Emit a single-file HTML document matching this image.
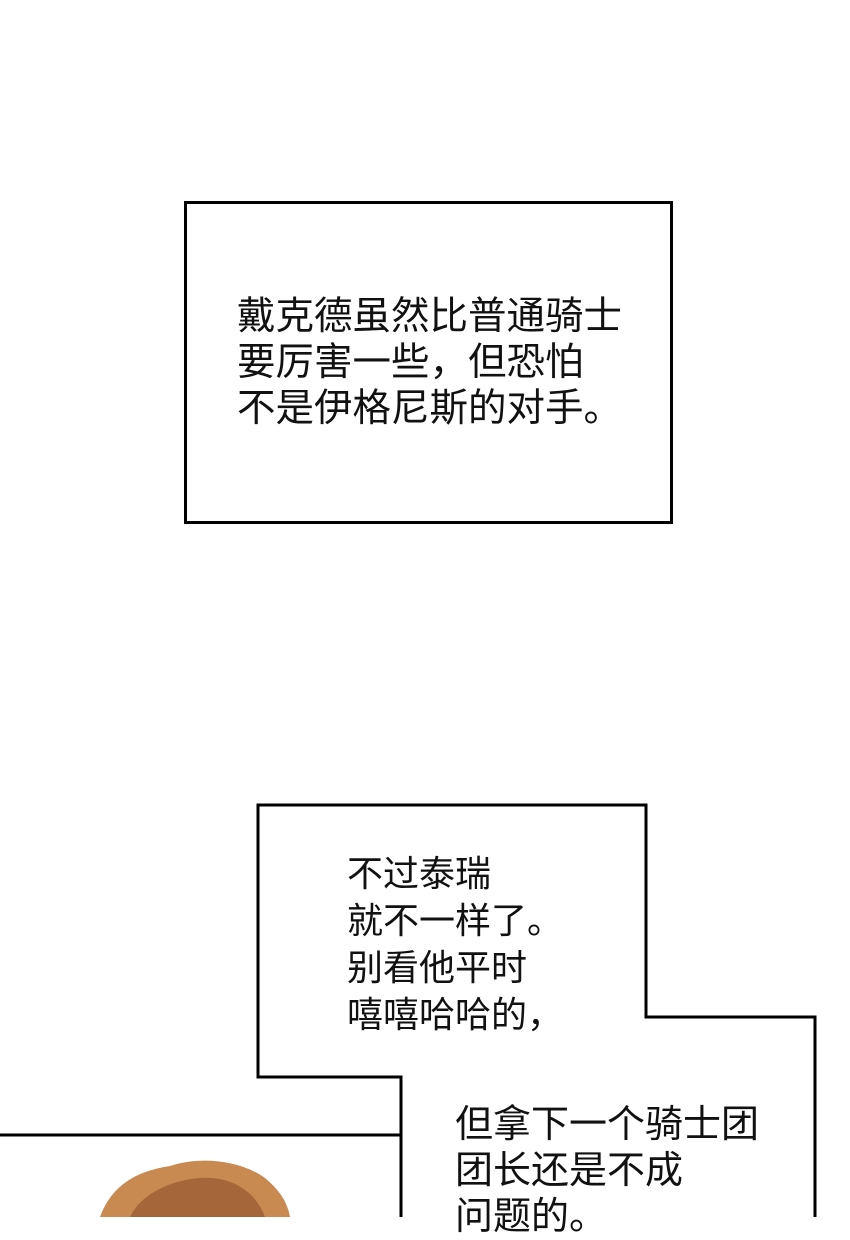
<!DOCTYPE html>
<html><head><meta charset="utf-8"><style>
html,body{margin:0;padding:0;background:#fff}
body{width:850px;height:1217px;position:relative;overflow:hidden;font-family:"Liberation Sans","Noto Sans CJK SC",sans-serif;color:#111}
.t{position:absolute;white-space:nowrap}
</style></head><body>
<svg width="850" height="1217" style="position:absolute;left:0;top:0">
<rect x="185.5" y="202.5" width="486" height="320" fill="#fff" stroke="#000" stroke-width="3"/>
<path d="M100 1217 C110 1190 130 1172 170 1166 C200 1156 240 1160 265 1178 C282 1192 288 1205 290 1217 Z" fill="#c98a52"/>
<path d="M130 1217 C140 1195 170 1180 200 1178 C230 1176 255 1190 265 1217 Z" fill="#a5673a"/>
<polyline points="0,1135 401,1135" fill="none" stroke="#000" stroke-width="3"/>
<polygon points="258,805 646,805 646,1017 815,1017 815,1220 401,1220 401,1077 258,1077" fill="#fff" stroke="#000" stroke-width="3"/>
</svg>
<div class="t" style="left:237px;top:294px;font-size:38.5px;line-height:46px">戴克德虽然比普通骑士<br>要厉害一些，但恐怕<br>不是伊格尼斯的对手。</div>
<div class="t" style="left:347px;top:850px;font-size:36px;line-height:47px">不过泰瑞<br>就不一样了。<br>别看他平时<br>嘻嘻哈哈的，</div>
<div class="t" style="left:455px;top:1102px;font-size:38px;line-height:46px">但拿下一个骑士团<br>团长还是不成<br>问题的。</div>
</body></html>
